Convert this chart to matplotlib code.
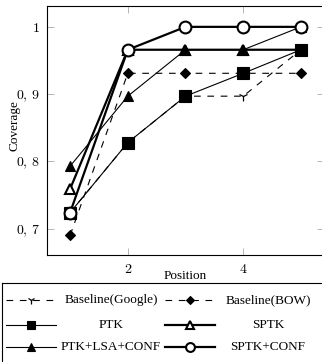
import numpy as np
import matplotlib.pyplot as plt

plt.rcParams['mathtext.fontset'] = 'cm'

# positions and coverage values per system
pos = [1, 2, 3, 4, 5]
google = [0.724, 0.828, 0.897, 0.897, 0.966]
bow = [0.690, 0.931, 0.931, 0.931, 0.931]
ptk = [0.724, 0.828, 0.897, 0.931, 0.966]
sptk = [0.759, 0.966, 0.966, 0.966, 0.966]
ptk_lsa = [0.793, 0.897, 0.966, 0.966, 1.0]
sptk_conf = [0.724, 0.966, 1.0, 1.0, 1.0]

names = ['Baseline(Google)', 'Baseline(BOW)', 'PTK', 'SPTK',
         'PTK+LSA+CONF', 'SPTK+CONF']

yticks = [0.7, 0.8, 0.9, 1.0]
ytick_labels = [r'$0,\,7$', r'$0,\,8$', r'$0,\,9$', r'$1$']
xticks = [2, 4]

serif = 'Liberation Serif'

# style per series
styles = {
    'Baseline(Google)': dict(ls=(0, (6, 6)), lw=0.8, marker='1', ms=7, mfc='k', mew=0.9, zorder=2),
    'Baseline(BOW)': dict(ls=(0, (6, 6)), lw=0.8, marker='D', ms=5, mfc='k', mew=0.8, zorder=3),
    'SPTK': dict(ls='-', lw=1.6, marker='^', ms=7, mfc='white', mew=1.5, zorder=4),
    'PTK': dict(ls='-', lw=0.8, marker='s', ms=8.5, mfc='k', mew=0.8, zorder=5),
    'PTK+LSA+CONF': dict(ls='-', lw=0.8, marker='^', ms=7, mfc='k', mew=0.8, zorder=6),
    'SPTK+CONF': dict(ls='-', lw=1.6, marker='o', ms=8.5, mfc='white', mew=1.5, zorder=7),
}
series = {
    'Baseline(Google)': google, 'Baseline(BOW)': bow, 'PTK': ptk,
    'SPTK': sptk, 'PTK+LSA+CONF': ptk_lsa, 'SPTK+CONF': sptk_conf,
}

W, H = 322, 362
fig = plt.figure(figsize=(W / 100, H / 100), dpi=100)
ax = fig.add_axes([47 / W, 1 - 255 / H, 277 / W, 249 / H])

for name in names:
    st = styles[name]
    ax.plot(pos, series[name], color='k', linestyle=st['ls'], linewidth=st['lw'],
            marker=st['marker'], markersize=st['ms'], markerfacecolor=st['mfc'],
            markeredgecolor='k', markeredgewidth=st['mew'], zorder=st['zorder'],
            clip_on=False)

ax.set_xlim(0.6, 5.4)
ax.set_ylim(0.661, 1.031)
ax.set_xticks(xticks)
ax.set_xticklabels([r'$%d$' % t for t in xticks], fontsize=10)
ax.set_yticks(yticks)
ax.set_yticklabels(ytick_labels, fontsize=10)
ax.tick_params(direction='in', length=5, width=0.6, color='#aaaaaa',
               top=True, right=True, pad=5)
for sp in ax.spines.values():
    sp.set_linewidth(0.8)
ax.set_xlabel('Position', fontsize=9.5, family=serif, labelpad=-4)
ax.set_ylabel('Coverage', fontsize=9.5, family=serif)
ax.yaxis.set_label_coords(-27 / 277, 0.52)

# legend box drawn by hand so the texts can be centred
lax = fig.add_axes([2 / W, 0, 1, (H - 283) / H])
lax.set_xlim(0, W)
lax.set_ylim(H - 283, 0)
lax.set_xticks([])
lax.set_yticks([])
lax.patch.set_alpha(0)
lax.spines['right'].set_visible(False)
lax.spines['bottom'].set_visible(False)
lax.spines['left'].set_linewidth(0.8)
lax.spines['top'].set_linewidth(0.8)

rows = [17, 42, 64]
cols = [(4, 54, 109), (163, 213, 266)]
for i, name in enumerate(names):
    st = styles[name]
    r = rows[i // 2]
    x0, x1, xt = cols[i % 2]
    lax.plot([x0, x1], [r, r], color='k', linestyle=st['ls'], linewidth=st['lw'])
    lax.plot([(x0 + x1) / 2], [r], color='k', marker=st['marker'],
             markersize=st['ms'] * 0.75, markerfacecolor=st['mfc'],
             markeredgecolor='k', markeredgewidth=st['mew'])
    lax.text(xt, r, name, ha='center', va='center', fontsize=9.5, family=serif)

fig.savefig('out.png', dpi=100)
